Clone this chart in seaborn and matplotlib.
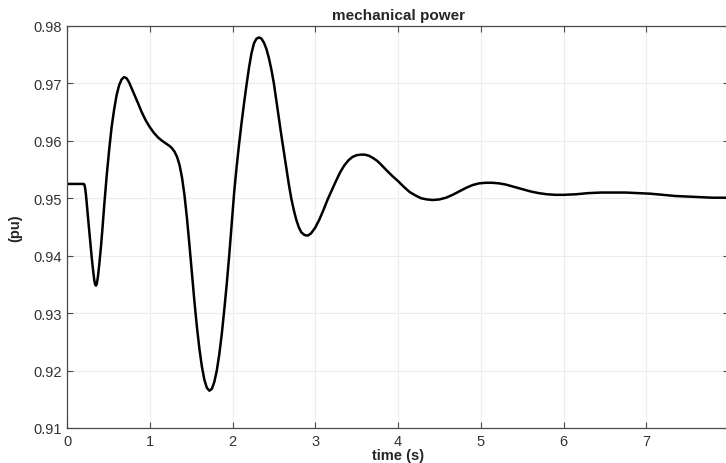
import numpy as np
import pandas as pd
import seaborn as sns
from matplotlib import pyplot as plt

# values (time in s, power in pu)
time_s = [0.00, 0.10, 0.20, 0.21, 0.22, 0.23, 0.245, 0.26, 0.28, 0.30,
          0.315, 0.33, 0.34, 0.35, 0.36, 0.375, 0.39, 0.41, 0.43, 0.45,
          0.48, 0.51, 0.54, 0.57, 0.60, 0.63, 0.66, 0.69, 0.72, 0.75,
          0.78, 0.82, 0.86, 0.90, 0.95, 1.00, 1.05, 1.10, 1.15, 1.20,
          1.24, 1.27, 1.30, 1.33, 1.36, 1.39, 1.42, 1.45, 1.48, 1.51,
          1.54, 1.57, 1.60, 1.63, 1.66, 1.69, 1.72, 1.75, 1.78, 1.81,
          1.84, 1.87, 1.90, 1.93, 1.96, 1.99, 2.02, 2.05, 2.08, 2.11,
          2.14, 2.17, 2.20, 2.23, 2.26, 2.29, 2.32, 2.35, 2.38, 2.41,
          2.44, 2.47, 2.50, 2.53, 2.56, 2.59, 2.62, 2.65, 2.68, 2.71,
          2.74, 2.77, 2.80, 2.83, 2.87, 2.91, 2.95, 3.00, 3.05, 3.10,
          3.15, 3.20, 3.25, 3.30, 3.35, 3.40, 3.45, 3.50, 3.55, 3.60,
          3.65, 3.70, 3.75, 3.80, 3.86, 3.93, 4.00, 4.07, 4.14, 4.21,
          4.28, 4.35, 4.42, 4.50, 4.58, 4.66, 4.74, 4.82, 4.90, 4.98,
          5.06, 5.14, 5.22, 5.30, 5.40, 5.50, 5.60, 5.70, 5.80, 5.90,
          6.00, 6.15, 6.30, 6.45, 6.60, 6.75, 6.90, 7.05, 7.20, 7.35,
          7.50, 7.65, 7.80, 8.00]
power_pu = [0.9525, 0.9525, 0.9525, 0.9524, 0.9517, 0.9505, 0.9482, 0.9457, 0.9425, 0.9395,
            0.9375, 0.9357, 0.9350, 0.9348, 0.9351, 0.9365, 0.9385, 0.9415, 0.9450, 0.9488,
            0.9540, 0.9585, 0.9625, 0.9655, 0.9680, 0.9697, 0.9707, 0.9711, 0.9709, 0.9702,
            0.9692, 0.9679, 0.9665, 0.9651, 0.9636, 0.9624, 0.9614, 0.9606, 0.9600, 0.9595,
            0.9591, 0.9587, 0.9581, 0.9572, 0.9558, 0.9536, 0.9505, 0.9465, 0.9418, 0.9368,
            0.9320, 0.9276, 0.9238, 0.9207, 0.9184, 0.9170, 0.9165, 0.9168, 0.9180, 0.9200,
            0.9228, 0.9263, 0.9305, 0.9350, 0.9400, 0.9455, 0.9510, 0.9555, 0.9595, 0.9632,
            0.9666, 0.9698, 0.9728, 0.9753, 0.9770, 0.9778, 0.9780, 0.9778, 0.9771, 0.9760,
            0.9744, 0.9724, 0.9700, 0.9670, 0.9640, 0.9610, 0.9582, 0.9553, 0.9525, 0.9500,
            0.9480, 0.9463, 0.9450, 0.9441, 0.9436, 0.9435, 0.9439, 0.9449, 0.9463, 0.9480,
            0.9498, 0.9514, 0.9530, 0.9545, 0.9557, 0.9566, 0.9572, 0.9575, 0.9576, 0.9576,
            0.9574, 0.9570, 0.9565, 0.9558, 0.9549, 0.9539, 0.9530, 0.9520, 0.9511, 0.9505,
            0.9500, 0.9498, 0.9497, 0.9498, 0.9501, 0.9506, 0.9512, 0.9518, 0.9523, 0.9526,
            0.9527, 0.9527, 0.9526, 0.9524, 0.9520, 0.9516, 0.9512, 0.9509, 0.9507, 0.9506,
            0.9506, 0.9507, 0.9509, 0.9510, 0.9510, 0.9510, 0.9509, 0.9508, 0.9506, 0.9504,
            0.9503, 0.9502, 0.9501, 0.9501]

x_ticks = [0, 1, 2, 3, 4, 5, 6, 7, 8]
y_ticks = [0.91, 0.92, 0.93, 0.94, 0.95, 0.96, 0.97, 0.98]

sns.set_theme(style="ticks")
plt.rcParams['font.family'] = ['Liberation Sans', 'DejaVu Sans']

data = pd.DataFrame({'t': time_s, 'p': power_pu})

fig = plt.figure(figsize=(7.26, 4.64), dpi=100)
ax  = fig.add_axes([67/726, 1-429/464, (729-67)/726, (429-27)/464])

sns.lineplot(data=data, x='t', y='p', color='black', linewidth=1.8, ax=ax)

ax.set_xlim(0, 8)
ax.set_ylim(0.91, 0.98)
ax.set_xticks(x_ticks)
ax.set_yticks(y_ticks)
ax.set_yticklabels(['%.2f' % v for v in y_ticks])
ax.grid(True, color='#ececec', linewidth=0.8)
ax.set_axisbelow(True)

for s in ax.spines.values():
    s.set_visible(True)
    s.set_color('#4a4a4a')
    s.set_linewidth(0.9)

ax.tick_params(direction='in', length=4, width=0.8, colors='#4a4a4a',
               labelcolor='#333333', labelsize=10.5, top=True, right=True)
ax.tick_params(axis='x', pad=4)

ax.set_title('mechanical power', fontsize=11, fontweight='bold', pad=5)
ax.set_xlabel('time (s)', fontsize=10.5, fontweight='bold', labelpad=0)
ax.set_ylabel('(pu)', fontsize=10.5, fontweight='bold', labelpad=8)

fig.savefig('out.png', dpi=100)
